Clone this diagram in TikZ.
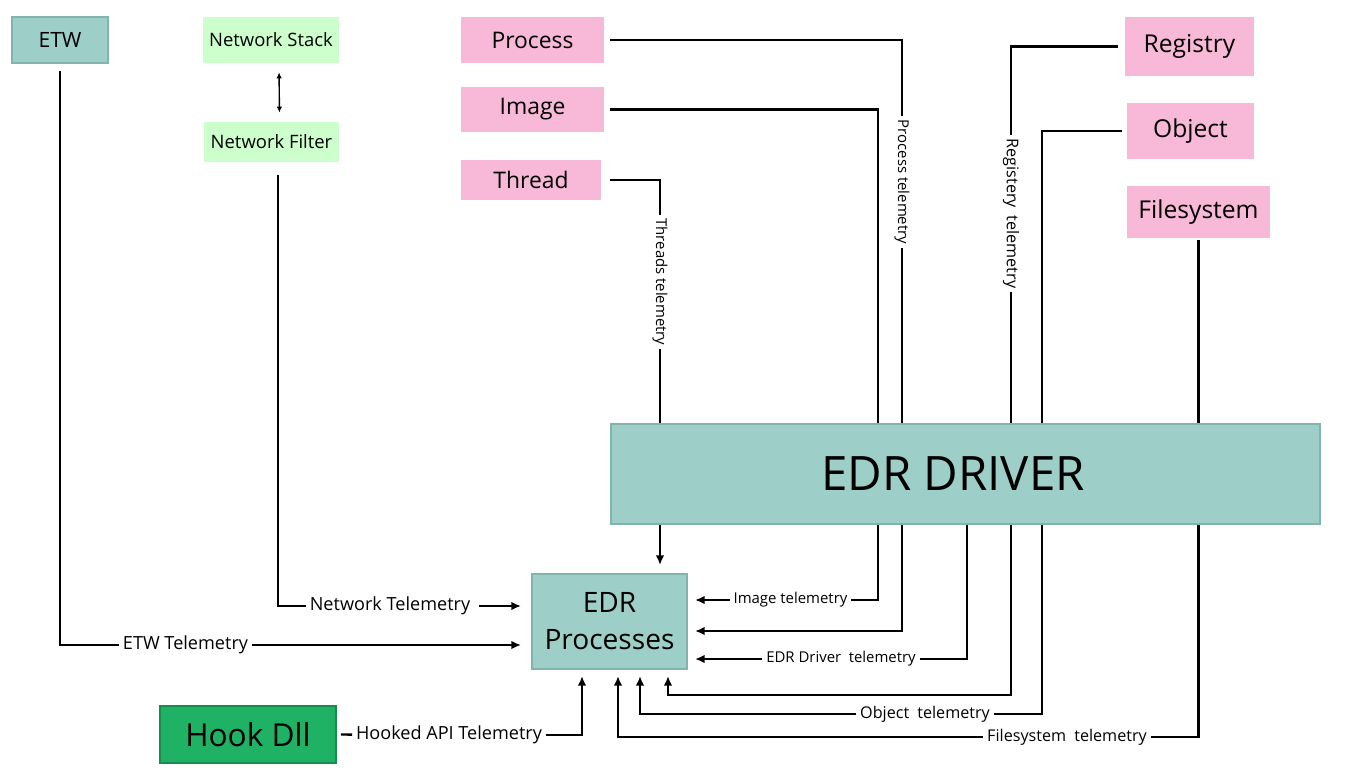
\documentclass[tikz,border=0pt]{standalone}
\usepackage{fontspec}
\setmainfont{Open Sans}
\usetikzlibrary{arrows.meta,backgrounds}

\definecolor{edrteal}{RGB}{157,207,200}
\definecolor{edredge}{RGB}{128,180,173}
\definecolor{srcpink}{RGB}{248,184,216}
\definecolor{netgreen}{RGB}{204,255,204}
\definecolor{hookgreen}{RGB}{31,178,100}
\definecolor{hookedge}{RGB}{22,140,78}

\begin{document}
\begin{tikzpicture}[
    tealbox/.style={rectangle, fill=edrteal, draw=edredge, line width=1.2pt, align=center},
    pinkbox/.style={rectangle, fill=srcpink, font=\fontsize{13}{15}\selectfont},
    greenbox/.style={rectangle, fill=netgreen, font=\fontsize{10.5}{12}\selectfont},
    wire/.style={line width=1.35pt, shorten <=0.12cm},
    arr/.style={line width=1.35pt, -{Latex[length=1.9mm,width=1.7mm]}},
    tel/.style={inner sep=2pt, font=\fontsize{8.5}{10}\selectfont},
    bigtel/.style={inner sep=2pt, font=\fontsize{10.3}{12}\selectfont},
    vtel/.style={tel, rotate=-90}
]
        \useasboundingbox (0,0) rectangle (27.06,-15.44);

        % Sources on the left
        \node[tealbox, minimum width=1.92cm, minimum height=0.92cm, font=\fontsize{12}{14}\selectfont] (etw) at (1.2,-0.8) {ETW};
        \node[greenbox, minimum width=2.68cm, minimum height=0.92cm] (netstack) at (5.42,-0.8) {Network Stack};
        \node[greenbox, minimum width=2.7cm, minimum height=0.8cm] (netfilter) at (5.43,-2.84) {Network Filter};

        % Kernel callbacks
        \node[pinkbox, minimum width=2.86cm, minimum height=0.92cm] (process) at (10.65,-0.8) {Process};
        \node[pinkbox, minimum width=2.86cm, minimum height=0.9cm] (image) at (10.65,-2.19) {Image};
        \node[pinkbox, minimum width=2.8cm, minimum height=0.8cm] (thread) at (10.62,-3.6) {Thread};
        \node[pinkbox, minimum width=2.58cm, minimum height=1.18cm, font=\fontsize{14}{16}\selectfont] (registry) at (23.79,-0.93) {Registry};
        \node[pinkbox, minimum width=2.54cm, minimum height=1.12cm, font=\fontsize{14}{16}\selectfont] (object) at (23.81,-2.62) {Object};
        \node[pinkbox, minimum width=2.86cm, minimum height=1.04cm, font=\fontsize{14}{16}\selectfont] (filesystem) at (23.97,-4.24) {Filesystem};

        % Driver, agent and hook
        \node[tealbox, minimum width=14.18cm, minimum height=2cm, font=\fontsize{27}{32}\selectfont] (driver) at (19.31,-9.48) {EDR DRIVER\hspace{0.5cm}};
        \node[tealbox, minimum width=3.1cm, minimum height=1.9cm, font=\fontsize{16}{21}\selectfont] (procs) at (12.19,-12.43) {EDR\\Processes};
        \node[rectangle, fill=hookgreen, draw=hookedge, line width=1pt, minimum width=3.52cm, minimum height=1.14cm, font=\fontsize{18}{20}\selectfont] (hook) at (4.96,-14.69) {Hook Dll};

        % Telemetry labels
        \node[bigtel] (etwlbl) at (3.71,-12.9) {ETW Telemetry};
        \node[bigtel] (netlbl) at (7.8,-12.12) {Network Telemetry};
        \node[bigtel] (hooklbl) at (8.98,-14.7) {Hooked API Telemetry};
        \node[vtel] (thrlbl) at (13.2,-5.64) {Threads telemetry};
        \node[vtel] (proclbl) at (18.04,-3.64) {Process telemetry};
        \node[vtel, font=\fontsize{9.2}{11}\selectfont] (reglbl) at (20.22,-4.27) {Registery\enspace telemetry};
        \node[tel] (imglbl) at (15.81,-12.0) {Image telemetry};
        \node[tel] (drvlbl) at (16.82,-13.18) {EDR Driver\enspace telemetry};
        \node[tel, font=\fontsize{9.2}{11}\selectfont] (objlbl) at (18.5,-14.28) {Object\enspace telemetry};
        \node[tel, font=\fontsize{9.2}{11}\selectfont] (fslbl) at (21.34,-14.74) {Filesystem\enspace telemetry};

        % Connect nodes (behind the driver box)
        \begin{scope}[on background layer]
        \draw[line width=0.8pt, {Latex[length=1.2mm,width=1.1mm]}-{Latex[length=1.2mm,width=1.1mm]}, shorten <=0.18cm, shorten >=0.18cm] ([xshift=0.16cm]netstack.south) -- ([xshift=0.16cm]netfilter.north);

        \draw[wire, shorten <=0.14cm] (etw.south) |- (etwlbl);
        \draw[arr, shorten >=0.2cm] (etwlbl) -- (etwlbl -| procs.west);
        \draw[wire, shorten <=0.26cm] ([xshift=0.13cm]netfilter.south) |- (netlbl);
        \draw[arr, shorten <=0.1cm, shorten >=0.2cm] (netlbl) -- (netlbl -| procs.west);
        \draw[wire, shorten <=0.08cm] (hook.east) -- (hooklbl);
        \draw[arr, shorten >=0.12cm] (hooklbl) -| ([xshift=-0.55cm]procs.south);

        \draw[wire, shorten <=0.18cm] (thread.east) -| (thrlbl);
        \draw[arr, shorten >=0.16cm] (thrlbl) -- (thrlbl |- procs.north);
        \draw[wire] (process.east) -| (proclbl);
        \draw[arr, shorten >=0.14cm] (proclbl) |- ([yshift=-0.19cm]procs.east);
        \draw[wire] (image.east) -| (17.56,-12) -- (imglbl);
        \draw[arr, shorten >=0.14cm] (imglbl) -- (imglbl -| procs.east);

        \draw[wire, shorten <=0.14cm] (registry.west) -| (reglbl);
        \draw[arr, shorten >=0.12cm] (reglbl) |- (13.36,-13.9) -- ([xshift=1.17cm]procs.south);
        \draw[wire, shorten <=0.1cm] (object.west) -| (20.84,-14.28) -- (objlbl);
        \draw[arr, shorten >=0.12cm] (objlbl) -| ([xshift=0.61cm]procs.south);
        \draw[wire, shorten <=0.04cm] (filesystem.south) |- (fslbl);
        \draw[arr, shorten >=0.12cm] (fslbl) -| ([xshift=0.17cm]procs.south);

        \draw[wire, shorten <=0cm] ([xshift=0.03cm]driver.south) |- (drvlbl);
        \draw[arr, shorten >=0.14cm] (drvlbl) -- (drvlbl -| procs.east);
        \end{scope}
    \end{tikzpicture}
\end{document}
